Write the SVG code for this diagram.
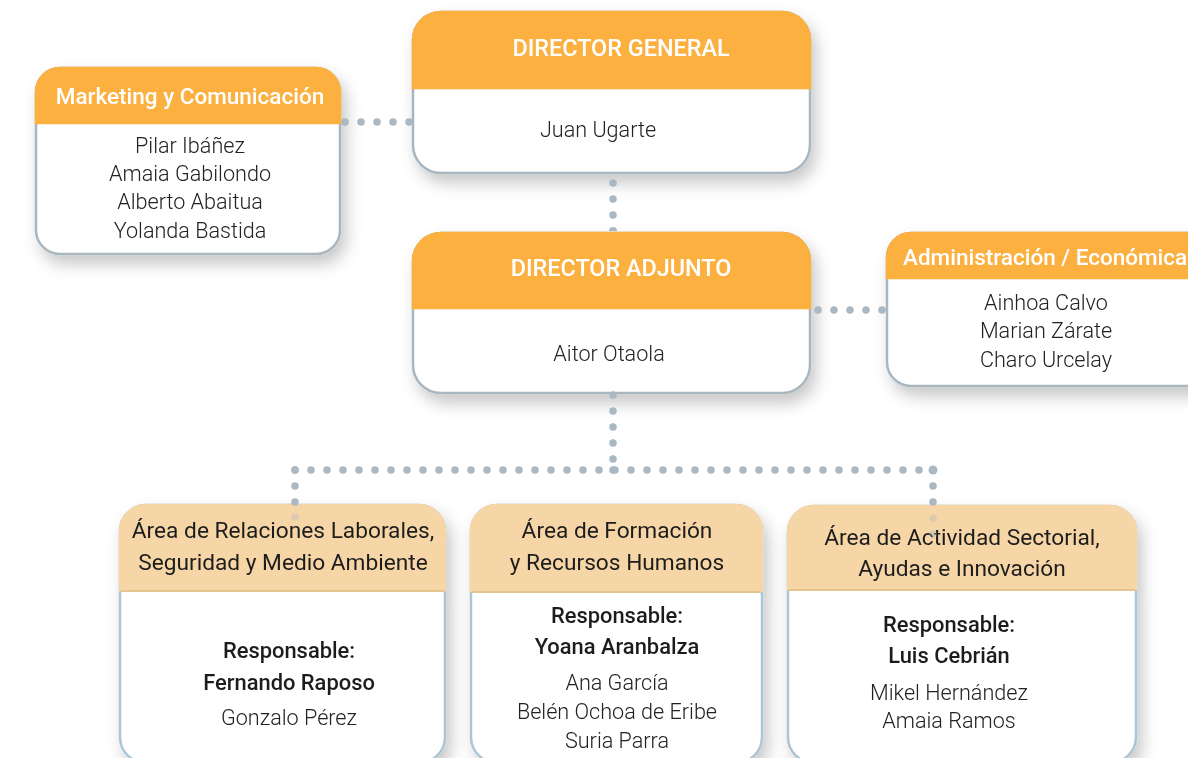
<svg xmlns="http://www.w3.org/2000/svg" width="1188" height="758" viewBox="0 0 1188 758">
<defs>
<filter id="sh" x="-20%" y="-20%" width="150%" height="160%">
<feDropShadow dx="5" dy="9" stdDeviation="8" flood-color="#000" flood-opacity="0.22"/>
</filter>
<style>
.body{fill:#fff;stroke:#a8b6c0;stroke-width:2.5}
.body2{fill:#fff;stroke:#a9c5d6;stroke-width:2.5}
.hd{fill:#fbb041;stroke:#fbb041;stroke-width:2.5}
.hd2{fill:#f6d6a6;stroke:#f6d6a6;stroke-width:2.5}
.sep{stroke:#e3c58f;stroke-width:2}
text{font-family:Roboto,"Liberation Sans",sans-serif;text-anchor:middle}
.ht{fill:#fff;font-size:23.4px;font-weight:500}
.hts{fill:#fff;font-size:22.5px;font-weight:500}
.nm{fill:#222;font-size:21.6px;font-weight:300}
.at{fill:#1e1e1e;font-size:22.7px;font-weight:400}
.rb{fill:#1e1e1e;font-size:21.9px;font-weight:500}
.dots{fill:none;stroke:#a9b8c2;stroke-width:7.5;stroke-linecap:round;stroke-dasharray:0 16}
.dot{fill:#a9b8c2}
</style>
</defs>
<g id="director-general" filter="url(#sh)">
<rect class="body" x="413" y="12" width="397" height="161" rx="28"/>
<path class="hd" d="M413,88 V40 A28,28 0 0 1 441,12 H782 A28,28 0 0 1 810,40 V88 Z"/>
<text class="ht" x="621" y="56">DIRECTOR GENERAL</text>
<text class="nm" x="598" y="137">Juan Ugarte</text>
</g>
<g id="director-adjunto" filter="url(#sh)">
<rect class="body" x="413" y="233" width="397" height="160" rx="28"/>
<path class="hd" d="M413,308 V261 A28,28 0 0 1 441,233 H782 A28,28 0 0 1 810,261 V308 Z"/>
<text class="ht" x="621" y="276">DIRECTOR ADJUNTO</text>
<text class="nm" x="609" y="361">Aitor Otaola</text>
</g>
<g id="marketing" filter="url(#sh)">
<rect class="body" x="36" y="68" width="304" height="186" rx="24"/>
<path class="hd" d="M36,123 V92 A24,24 0 0 1 60,68 H316 A24,24 0 0 1 340,92 V123 Z"/>
<text class="hts" x="190" y="104">Marketing y Comunicación</text>
<text class="nm" x="190" y="153">Pilar Ibáñez</text>
<text class="nm" x="190" y="181">Amaia Gabilondo</text>
<text class="nm" x="190" y="209">Alberto Abaitua</text>
<text class="nm" x="190" y="238">Yolanda Bastida</text>
</g>
<g id="administracion" filter="url(#sh)">
<rect class="body" x="887" y="233" width="330" height="153" rx="24"/>
<path class="hd" d="M887,278 V257 A24,24 0 0 1 911,233 H1193 A24,24 0 0 1 1217,257 V278 Z"/>
<text class="hts" x="903" y="265" style="text-anchor:start">Administración / Económica</text>
<text class="nm" x="1046" y="310">Ainhoa Calvo</text>
<text class="nm" x="1046" y="338">Marian Zárate</text>
<text class="nm" x="1046" y="367">Charo Urcelay</text>
</g>
<g id="area-relaciones" filter="url(#sh)">
<rect class="body2" x="120" y="505" width="325" height="258" rx="26"/>
<path class="hd2" d="M120,590 V531 A26,26 0 0 1 146,505 H419 A26,26 0 0 1 445,531 V590 Z"/>
<line class="sep" x1="121" y1="591" x2="444" y2="591"/>
<text class="at" x="283" y="538">Área de Relaciones Laborales,</text>
<text class="at" x="283" y="570">Seguridad y Medio Ambiente</text>
<text class="rb" x="289" y="658">Responsable:</text>
<text class="rb" x="289" y="690">Fernando Raposo</text>
<text class="nm" x="289" y="725">Gonzalo Pérez</text>
</g>
<g id="area-formacion" filter="url(#sh)">
<rect class="body2" x="471" y="505" width="291" height="258" rx="26"/>
<path class="hd2" d="M471,591 V531 A26,26 0 0 1 497,505 H736 A26,26 0 0 1 762,531 V591 Z"/>
<line class="sep" x1="472" y1="592" x2="761" y2="592"/>
<text class="at" x="617" y="538">Área de Formación</text>
<text class="at" x="617" y="570">y Recursos Humanos</text>
<text class="rb" x="617" y="623">Responsable:</text>
<text class="rb" x="617" y="654">Yoana Aranbalza</text>
<text class="nm" x="617" y="690">Ana García</text>
<text class="nm" x="617" y="719">Belén Ochoa de Eribe</text>
<text class="nm" x="617" y="748">Suria Parra</text>
</g>
<g id="area-actividad" filter="url(#sh)">
<rect class="body2" x="788" y="506" width="348" height="257" rx="26"/>
<path class="hd2" d="M788,589 V532 A26,26 0 0 1 814,506 H1110 A26,26 0 0 1 1136,532 V589 Z"/>
<line class="sep" x1="789" y1="590" x2="1135" y2="590"/>
<text class="at" x="962" y="545">Área de Actividad Sectorial,</text>
<text class="at" x="962" y="576">Ayudas e Innovación</text>
<text class="rb" x="949" y="632">Responsable:</text>
<text class="rb" x="949" y="663">Luis Cebrián</text>
<text class="nm" x="949" y="700">Mikel Hernández</text>
<text class="nm" x="949" y="728">Amaia Ramos</text>
</g>
<g id="connectors">
<path class="dots" d="M345,122 H409.5"/>
<path class="dots" d="M613,183 V215.5"/>
<path class="dots" d="M818,310 H882.5"/>
<path class="dots" d="M613,395 V459.5"/>
<path class="dots" d="M295,470 H919.5"/>
<path class="dots" d="M295,470 V502.5"/>
<path class="dots" d="M933,486 V502.5"/>
<circle class="dot" cx="933" cy="470" r="4.5"/>
<circle class="dot" cx="613" cy="470" r="3.8"/>
<path d="M609,231 A4,4 0 0 1 617,231 Z" class="dot"/>
<g opacity="0.35">
<circle class="dot" cx="295" cy="517" r="3.8"/>
<circle class="dot" cx="933" cy="518" r="3.8"/>
<circle class="dot" cx="933" cy="534" r="3.8"/>
</g>
</g>
</svg>
